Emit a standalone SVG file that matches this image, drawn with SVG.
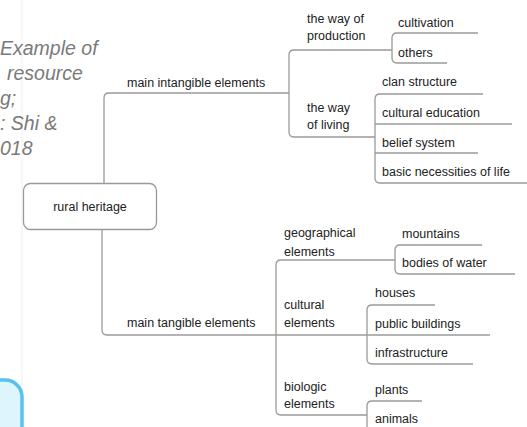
<svg xmlns="http://www.w3.org/2000/svg" width="527" height="427" viewBox="0 0 527 427">
<style>
.t{font-family:"Liberation Sans",Arial,sans-serif;font-size:12.5px;fill:#222}
.cap{font-family:"Liberation Sans",Arial,sans-serif;font-size:19.5px;font-style:italic;fill:#7a7a7a}
.c{fill:none;stroke:#9a9a9a;stroke-width:1.3}
</style>
<rect width="527" height="427" fill="#ffffff"/>
<line x1="22" y1="0" x2="22" y2="427" stroke="#f0f0f0" stroke-width="1"/>
<g id="caption">
<text class="cap" x="0" y="55">Example of</text>
<text class="cap" x="7" y="80">resource</text>
<text class="cap" x="0" y="105">g;</text>
<text class="cap" x="0" y="130">: Shi &amp;</text>
<text class="cap" x="0" y="155">018</text>
</g>
<rect id="blue-box" x="-40" y="380" width="62" height="90" rx="17" fill="#dff5fd" stroke="#56c2ee" stroke-width="3.5"/>
<g id="connectors" class="c">
<path d="M104,183 V98 Q104,93 109,93 H289"/>
<path d="M392,50 H294 Q289,50 289,55 V132 Q289,137 294,137 H375"/>
<path d="M478,33 H397 Q392,33 392,38 V58 Q392,63 397,63 H447"/>
<path d="M483,94 H380 Q375,94 375,99 V178 Q375,183 380,183 H527"/>
<path d="M375,124 H512"/>
<path d="M375,153 H478"/>
<path d="M102,230 V330 Q102,335 107,335 H490"/>
<path d="M395,260 H281 Q276,260 276,265 V410 Q276,415 281,415 H367"/>
<path d="M482,245 H400 Q395,245 395,250 V269 Q395,274 400,274 H515"/>
<path d="M435,305 H372 Q367,305 367,310 V359 Q367,364 372,364 H473"/>
<path d="M422,401 H372 Q367,401 367,406 V440"/>
</g>
<g id="root">
<rect x="23.5" y="183.5" width="133" height="46" rx="7" fill="#fff" stroke="#999" stroke-width="1.3"/>
<text class="t" x="90" y="211" text-anchor="middle">rural heritage</text>
</g>
<g id="intangible"><text class="t" x="127" y="87">main intangible elements</text></g>
<g id="tangible"><text class="t" x="127" y="327">main tangible elements</text></g>
<g id="production"><text class="t" x="307" y="23">the way of</text><text class="t" x="307" y="40">production</text></g>
<g id="cultivation"><text class="t" x="398" y="27">cultivation</text></g>
<g id="others"><text class="t" x="398" y="57">others</text></g>
<g id="living"><text class="t" x="307" y="112">the way</text><text class="t" x="307" y="129">of living</text></g>
<g id="clan"><text class="t" x="382" y="86">clan structure</text></g>
<g id="education"><text class="t" x="382" y="117">cultural education</text></g>
<g id="belief"><text class="t" x="382" y="147">belief system</text></g>
<g id="necessities"><text class="t" x="382" y="176">basic necessities of life</text></g>
<g id="geographical"><text class="t" x="284" y="237">geographical</text><text class="t" x="284" y="256">elements</text></g>
<g id="mountains"><text class="t" x="402" y="238">mountains</text></g>
<g id="water"><text class="t" x="402" y="267">bodies of water</text></g>
<g id="cultural"><text class="t" x="284" y="309">cultural</text><text class="t" x="284" y="327">elements</text></g>
<g id="houses"><text class="t" x="375" y="297">houses</text></g>
<g id="public"><text class="t" x="375" y="328">public buildings</text></g>
<g id="infrastructure"><text class="t" x="375" y="357">infrastructure</text></g>
<g id="biologic"><text class="t" x="284" y="391">biologic</text><text class="t" x="284" y="408">elements</text></g>
<g id="plants"><text class="t" x="375" y="394">plants</text></g>
<g id="animals"><text class="t" x="375" y="423">animals</text></g>
</svg>
